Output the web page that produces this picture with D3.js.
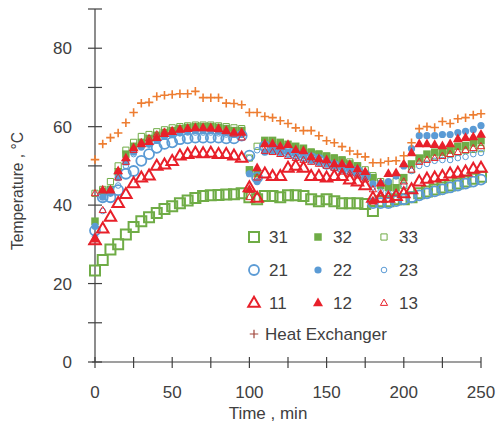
<!DOCTYPE html>
<html><head><meta charset="utf-8">
<script src="https://cdn.jsdelivr.net/npm/d3@7"></script>
<style>
body{margin:0;background:#fff}
text{font-family:"Liberation Sans",Arial,sans-serif;fill:#404040}
</style>
</head><body><svg id="c" width="497" height="423"></svg>
<script>
const times = [0,5,10,15,20,25,30,35,40,45,50,55,60,65,70,75,80,85,90,95,100,105,110,115,120,125,130,135,140,145,150,155,160,165,170,175,180,185,190,195,200,205,210,215,220,225,230,235,240,245,250];
const s31 = [23.3,26,28.7,30,32.5,34.4,35.9,36.9,38,39,39.7,40.5,41.2,41.8,42.3,42.5,42.6,42.7,42.8,43,42,
  41.5,42.3,42.3,42,42.5,42.5,42.3,41.5,41,41.5,41,40.5,40.5,40.5,40.3,
  38.5,41,41,41.5,41.5,42,43,43.5,44,44.5,45,45.5,46,46.7,47.2];
const s32 = [35.9,43.5,44,48.5,53,55,56,57,57.8,58.5,59,59.5,59.8,60,60,60,59.8,59.5,59,59,49,
  48,56.5,56.5,56,55.5,55,54.5,53.5,53,52.5,52,51.5,50.5,50,47.5,
  47,45,44.5,44.4,47,50.5,52,53,53.5,53.5,54,55,55.2,56,56.4];
const s33 = [43,44,46,50,54,56,57.5,58,58.7,59.2,59.7,60,60.2,60.4,60.4,60.4,60.2,60,59.7,59.5,52,
  55,56,56,55.5,55,54.5,54,53.5,53,52.5,52,51.5,51,50,49,
  47.5,46,45.5,46,45,49,51.5,52,52.5,52.8,53,53.5,54,54.2,54.4];
const s21 = [33.5,42,42,43.8,48,48.7,51.3,53,54.6,55.6,56,56.8,57,57.2,57.2,57.2,57.2,57,57,57.7,52.6,
  47,55,54.5,54,53.5,53,52.5,52,51.5,50.5,50,49.5,49,48.5,47.5,
  40.5,40.5,40.5,41,41.5,42,42.5,43,43.5,44,44.5,45,45.5,46,46.5];
const s22 = [34.6,42,43,47,51,53.5,54.8,55.5,56.5,57.5,58,58.5,58.8,59,59,59,58.8,58.5,58,58,48,
  46,53.5,54,53.5,53.5,53,52.5,51.5,51,50.5,50,49.5,49,48,47,
  45.4,45.6,46,47.4,50,54.4,57.7,57.7,57.7,58,58,58.5,58.8,59.3,60.3];
const s23 = [32,38.5,44,45,50,53,55,56,57,57.5,58,58.3,58.5,58.5,58.5,58.5,58.3,58,58,58,52,
  54,54.5,54.5,54,54,53,52.5,52,51.5,51,50.5,50,49.5,48.5,47.5,
  44.5,43.5,43,43,45,48.7,50,50.5,51.3,51.5,51.5,52,52.3,53,53.3];
const s11 = [31,34,37,40.5,42.8,45.5,47,47.5,50,50.3,51.2,52.6,53,53.3,53.2,53.3,53,53,52.6,52,44.5,
  41.8,48,47.4,47.4,49.5,50,49.5,47.4,47.4,47,47.4,47.4,46.5,46,45,
  41.8,41.8,41.8,42.3,43,44,46,46.7,47,47.4,48,48.2,48.5,49.2,49.5];
const s12 = [31.3,43.8,43.8,48.7,52,54.6,55.6,56.2,57.2,58.2,58.7,59.3,59.5,59.7,59.7,59.7,59.5,59,58.5,58.5,44,
  49.5,55.6,55.6,55,55.4,54.1,53.8,52.3,51.8,51.5,50.5,50.5,50.3,49.2,48.5,
  41,45.6,48,48.2,50.5,53.3,55.6,55.6,55.4,55.1,55.6,56.9,57.2,57.4,58];
const s13 = [43,38.7,44,47,51,54,56,57,58,58.7,59,59.3,59.5,59.7,59.7,59.5,59.3,58.8,58.2,57.2,42,
  47,53.8,53.5,53,52.5,52,51.5,51,50.5,50,49.5,48.5,48,47.5,46.5,
  44,43,42.5,43,46,49,51,51.5,52,52.5,53,53.5,54,54.5,55];
const sHE = [51.6,55.6,57.2,58.4,61,63.6,66,66.2,67.7,68,68.2,68.4,68.4,69,67.4,67.4,67.4,66,65.9,65.6,63.6,
  63.6,62.6,62.3,61.5,60.8,59.7,59,59,57.7,56.4,55.9,54.9,53.8,53,52.3,
  50.8,50.8,51.2,51.3,52.6,55.9,59.5,60,59.8,61.3,60.8,62,62.3,63,63.3];
const names = ["31","32","33","21","22","23","11","12","13","Heat Exchanger"];
const xTicks = [0,25,50,75,100,125,150,175,200,225,250];
const xLabels = [0,50,100,150,200,250];
const yTicks = [0,10,20,30,40,50,60,70,80,90];
const yLabels = [0,20,40,60,80];

const GREEN="#6fac46", BLUE="#5b9bd5", RED="#e8202a", ORANGE="#ed7d31";
function sq(s){const h=s/2;return `M${-h},${-h}H${h}V${h}H${-h}Z`;}
function tri(w){const h=w*0.87;return `M0,${-h*0.62}L${w/2},${h*0.38}L${-w/2},${h*0.38}Z`;}
function circ(r){return `M${r},0A${r},${r} 0 1,1 ${-r},0A${r},${r} 0 1,1 ${r},0Z`;}
function plus(s){const h=s/2;return `M${-h},0H${h}M0,${-h}V${h}`;}

const styles = [
  {d:sq(10), fill:"none", stroke:GREEN, sw:2},
  {d:sq(7.5), fill:GREEN, stroke:"none", sw:0},
  {d:sq(6.2), fill:"none", stroke:GREEN, sw:1},
  {d:circ(5), fill:"none", stroke:BLUE, sw:1.8},
  {d:circ(3.6), fill:BLUE, stroke:"none", sw:0},
  {d:circ(2.8), fill:"none", stroke:BLUE, sw:1},
  {d:tri(11.5), fill:"none", stroke:RED, sw:2},
  {d:tri(10), fill:RED, stroke:"none", sw:0},
  {d:tri(7.2), fill:"none", stroke:RED, sw:1},
  {d:plus(8.5), fill:"none", stroke:ORANGE, sw:1.6}
];
const series = [s31,s32,s33,s21,s22,s23,s11,s12,s13,sHE];

const svg = d3.select("#c");
const x = d3.scaleLinear().domain([0,250]).range([95,481]);
const y = d3.scaleLinear().domain([0,90]).range([362,9]);

// axes
const ax = svg.append("g").attr("stroke","#404040").attr("stroke-width",1.2);
ax.append("line").attr("x1",x(0)).attr("x2",x(0)).attr("y1",y(90)).attr("y2",y(0));
ax.append("line").attr("x1",x(0)-3).attr("x2",x(250)).attr("y1",y(0)).attr("y2",y(0));
ax.selectAll(".yt").data(yTicks).join("line").attr("x1",x(0)-7).attr("x2",x(0)+7)
  .attr("y1",d=>y(d)).attr("y2",d=>y(d));
ax.selectAll(".xt").data(xTicks).join("line").attr("y1",y(0)-5).attr("y2",y(0)+6)
  .attr("x1",d=>x(d)).attr("x2",d=>x(d));
svg.selectAll(".yl").data(yLabels).join("text").attr("x",72).attr("y",d=>y(d)+6)
  .attr("text-anchor","end").attr("font-size",17).text(d=>d);
svg.selectAll(".xl").data(xLabels).join("text").attr("x",d=>x(d)).attr("y",398)
  .attr("text-anchor","middle").attr("font-size",17).text(d=>d);
svg.append("text").attr("x",268).attr("y",419).attr("text-anchor","middle")
  .attr("font-size",17).text("Time , min");
svg.append("text").attr("transform","translate(23,191) rotate(-90)").attr("text-anchor","middle")
  .attr("font-size",17).attr("textLength",118).attr("lengthAdjust","spacingAndGlyphs")
  .text("Temperature , °C");

// data
series.forEach((s,i)=>{
  const st = styles[i];
  svg.append("g").selectAll("path").data(s.map((v,j)=>[times[j],v])).join("path")
    .attr("transform",d=>`translate(${x(d[0])},${y(d[1])})`)
    .attr("d",st.d).attr("fill",st.fill).attr("stroke",st.stroke).attr("stroke-width",st.sw);
});

// legend
const legCols=[254,318,384], legRows=[237,270,303];
names.forEach((n,i)=>{
  let mx,my,tx;
  if(i<9){mx=legCols[i%3];my=legRows[Math.floor(i/3)];tx=mx+15;}
  else {mx=254;my=334;tx=265;}
  const st=styles[i];
  svg.append("path").attr("transform",`translate(${mx},${my})`).attr("d",st.d)
    .attr("fill",st.fill).attr("stroke",i===9?"#a0453a":st.stroke).attr("stroke-width",i===9?1.2:st.sw);
  svg.append("text").attr("x",tx).attr("y",my+6).attr("font-size",17).text(n);
});
</script></body></html>
